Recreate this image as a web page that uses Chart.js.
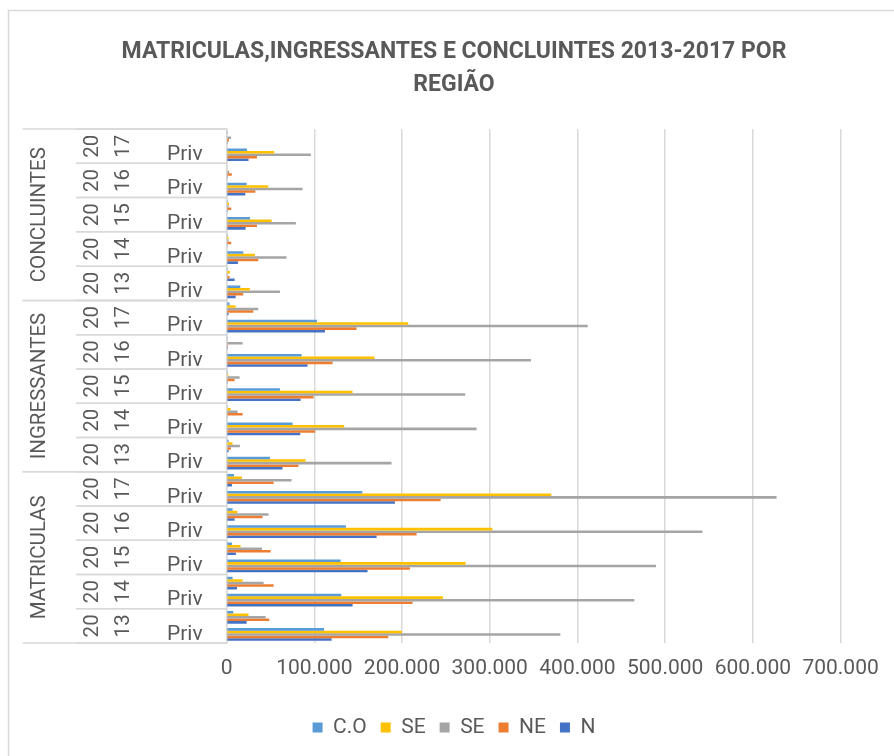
<!DOCTYPE html>
<html>
<head>
<meta charset="utf-8">
<script src="https://cdn.jsdelivr.net/npm/chart.js@4.4.1/dist/chart.umd.min.js"></script>
<style>
  html, body { margin: 0; padding: 0; background: #ffffff; }
  #wrap { width: 894px; height: 756px; }
</style>
</head>
<body>
<div id="wrap"><canvas id="c" width="894" height="756"></canvas></div>
<script>
// ---- data ----
const groups = ['MATRICULAS', 'INGRESSANTES', 'CONCLUINTES'];
const years = ['2013', '2014', '2015', '2016', '2017'];
const types = ['Priv', 'Pub'];
const xTickLabels = ['0', '100.000', '200.000', '300.000', '400.000', '500.000', '600.000', '700.000'];
const seriesNames = ['C.O', 'SE', 'SE', 'NE', 'N'];

// order: MATRICULAS 2013 Priv, MATRICULAS 2013 Pub, MATRICULAS 2014 Priv, ... CONCLUINTES 2017 Pub
const valuesCO = [111000, 7600, 130700, 6800, 130000, 6100, 136000, 6800, 154700, 8400,
                  49400, 2300, 75200, 1100, 60800, 300, 85500, 300, 103000, 3400,
                  15600, 300, 19000, 300, 26600, 300, 22800, 1000, 23200, 300];
const valuesSE1 = [200000, 25000, 246600, 18200, 272500, 16000, 303000, 12200, 370200, 17500,
                   90000, 6800, 134100, 4600, 143600, 1900, 168700, 1100, 207000, 10300,
                   26600, 3800, 32300, 2300, 51300, 2700, 47500, 1000, 54300, 1000];
const valuesSE2 = [380500, 44500, 464900, 42200, 489600, 40300, 542400, 47900, 627000, 74100,
                   188000, 15200, 285000, 12500, 272000, 14800, 347000, 18200, 411700, 36100,
                   60800, 1500, 68400, 2300, 79000, 2300, 86600, 3000, 96100, 5000];
const valuesNE = [184300, 48600, 212000, 53600, 209000, 50200, 216600, 41000, 244000, 53600,
                  82000, 4900, 101000, 18200, 99200, 9100, 120800, 1500, 148200, 30400,
                  19000, 3400, 36100, 5300, 34600, 5300, 32700, 6000, 34600, 2700];
const valuesN = [119700, 22800, 143600, 11800, 160700, 10600, 171000, 9100, 191900, 6100,
                 63800, 2300, 84000, 1100, 84400, 300, 92300, 300, 112100, 2300,
                 10300, 9100, 12900, 1100, 21700, 300, 21300, 300, 25000, 300];

// ---- build ----
const categories = [];
const catInfo = [];
groups.forEach(g => years.forEach(y => types.forEach(t => {
  categories.push(g + ' ' + y + ' ' + t);
  catInfo.push({ g, y, t });
})));

const FAMILY = "Roboto, 'Liberation Sans', sans-serif";
const TXT = '#595959';
const LINE = '#D9D9D9';
const colors = ['#5B9BD5', '#FFC000', '#A5A5A5', '#ED7D31', '#4472C4'];
const seriesValues = [valuesCO, valuesSE1, valuesSE2, valuesNE, valuesN];

const multiLevel = {
  id: 'multiLevel',
  beforeDraw(chart) {
    const { ctx, width, height } = chart;
    ctx.save();
    ctx.fillStyle = '#ffffff';
    ctx.fillRect(0, 0, width, height);
    ctx.strokeStyle = LINE;
    ctx.lineWidth = 1.5;
    ctx.strokeRect(8.5, 10.5, width + 20, height + 20);
    ctx.restore();
  },
  afterDraw(chart) {
    const { ctx, chartArea } = chart;
    const ys = chart.scales.y;
    const catH = Math.abs(ys.getPixelForValue(1) - ys.getPixelForValue(0));
    const per = years.length * types.length;
    const span = (a, b) => {
      const p1 = ys.getPixelForValue(a), p2 = ys.getPixelForValue(b);
      return [Math.min(p1, p2) - catH / 2, Math.max(p1, p2) + catH / 2];
    };
    const hline = (x1, y, x2) => {
      ctx.beginPath(); ctx.moveTo(x1, y); ctx.lineTo(x2, y); ctx.stroke();
    };
    const vtext = (txt, x, y) => {
      ctx.save(); ctx.translate(x, y); ctx.rotate(-Math.PI / 2);
      ctx.fillText(txt, 0, 0); ctx.restore();
    };
    ctx.save();
    ctx.strokeStyle = LINE;
    ctx.lineWidth = 1.5;
    ctx.fillStyle = TXT;
    ctx.textAlign = 'center';
    ctx.textBaseline = 'middle';
    ctx.font = '20.5px ' + FAMILY;
    groups.forEach((g, gi) => {
      const first = gi * per;
      const [gt, gb] = span(first, first + per - 1);
      hline(22.5, gt, chartArea.left);
      hline(22.5, gb, chartArea.left);
      vtext(g, 40, (gt + gb) / 2);
      years.forEach((yr, yi) => {
        const a = first + yi * types.length;
        const [yt, yb] = span(a, a + types.length - 1);
        hline(76, yt, chartArea.left);
        hline(76, yb, chartArea.left);
        const cy = (yt + yb) / 2;
        vtext(yr.slice(0, 2), 92.5, cy);
        vtext(yr.slice(2), 124, cy);
      });
    });
    ctx.restore();
  }
};

new Chart(document.getElementById('c'), {
  type: 'bar',
  data: {
    labels: categories,
    datasets: seriesNames.map((name, i) => ({
      label: name,
      data: seriesValues[i],
      backgroundColor: colors[i],
      borderWidth: 0,
      categoryPercentage: 0.74,
      barPercentage: 1.0
    }))
  },
  options: {
    indexAxis: 'y',
    responsive: false,
    animation: false,
    devicePixelRatio: 1,
    layout: { padding: { left: 14, right: 0, top: 0, bottom: 8 } },
    scales: {
      x: {
        min: 0, max: 700000,
        ticks: {
          stepSize: 100000,
          autoSkip: false,
          color: TXT,
          font: { family: FAMILY, size: 21 },
          padding: 13,
          maxRotation: 0,
          callback: (v, i) => xTickLabels[i]
        },
        grid: { color: LINE, lineWidth: 1.5, drawTicks: false },
        border: { display: false },
        afterFit: s => { s.height = 60; }
      },
      y: {
        reverse: true,
        ticks: {
          autoSkip: false,
          color: TXT,
          font: { family: FAMILY, size: 21 },
          padding: 24,
          callback: (v, i) => (catInfo[i].t === 'Priv' ? catInfo[i].t : '')
        },
        grid: { display: false, drawTicks: false },
        border: { display: true, color: LINE, width: 1.5 },
        afterFit: s => { s.width = 226.6 - 14; }
      },
      yRight: {
        type: 'linear',
        position: 'right',
        display: true,
        ticks: { display: false },
        grid: { display: false, drawTicks: false },
        border: { display: false },
        afterFit: s => { s.width = 894 - 840.6; }
      }
    },
    plugins: {
      title: {
        display: true,
        text: ['MATRICULAS,INGRESSANTES E CONCLUINTES 2013-2017 POR', 'REGIÃO'],
        color: TXT,
        font: { family: FAMILY, size: 23, weight: 'bold', lineHeight: 1.43 },
        padding: { top: 36, bottom: 27.3 }
      },
      legend: {
        position: 'bottom',
        labels: {
          color: TXT,
          font: { family: FAMILY, size: 21 },
          boxWidth: 10,
          boxHeight: 10,
          padding: 14
        }
      },
      tooltip: { enabled: false }
    }
  },
  plugins: [multiLevel]
});
</script>
</body>
</html>
